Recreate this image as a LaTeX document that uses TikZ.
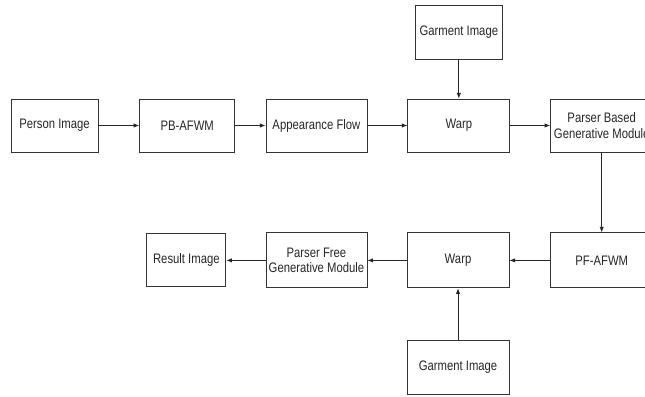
\documentclass[tikz,border=0pt]{standalone}
\usepackage{fontspec}
\setmainfont{Liberation Sans}[FakeStretch=0.82]
\usepackage{tikz}
\usetikzlibrary{arrows.meta,positioning}

\begin{document}
\begin{tikzpicture}[
  x=0.025cm, y=-0.025cm,
  blk/.style={draw=black!80, line width=0.6pt, inner sep=1pt, minimum height=1.325cm,
    align=center, text=black!85, font=\fontsize{9.8}{11}\selectfont},
  arr/.style={-{Latex[length=1.4mm,width=1.1mm]}, line width=0.6pt, draw=black!85}
]
\clip (0,0) rectangle (645,396);

% top row: parser based branch
\node[blk, minimum width=2.175cm] (person) at (54.5,125.5) {Person Image};
\node[blk, minimum width=2.375cm, right=1.02cm of person] (pbafwm) {PB-AFWM};
\node[blk, minimum width=2.525cm, right=0.76cm of pbafwm] (flow) {Appearance Flow};
\node[blk, minimum width=2.55cm, right=1cm of flow] (warpa) {Warp};
\node[blk, minimum width=2.175cm, minimum height=1.35cm, above=0.98cm of warpa] (garmenta) {Garment Image};
\node[blk, minimum width=2.55cm, right=1cm of warpa] (pbgen) {Parser Based\\Generative Module};

% bottom row: parser free branch
\node[blk, minimum width=2.55cm, minimum height=1.375cm, below=2cm of pbgen] (pfafwm) {PF-AFWM};
\node[blk, minimum width=2.55cm, minimum height=1.375cm, left=1.02cm of pfafwm] (warpb) {Warp};
\node[blk, minimum width=2.525cm, minimum height=1.375cm, left=0.98cm of warpb] (pfgen) {Parser Free\\Generative Module};
\node[blk, minimum width=1.975cm, left=0.98cm of pfgen] (result) {Result Image};
\node[blk, minimum width=2.55cm, minimum height=1.35cm, below=1.28cm of warpb] (garmentb) {Garment Image};

\draw[arr] (person) -- (pbafwm);
\draw[arr] (pbafwm) -- (flow);
\draw[arr] (flow) -- (warpa);
\draw[arr] (garmenta) -- (warpa);
\draw[arr] (warpa) -- (pbgen);
\draw[arr] (pbgen) -- (pfafwm);
\draw[arr] (pfafwm) -- (warpb);
\draw[arr] (garmentb) -- (warpb);
\draw[arr] (warpb) -- (pfgen);
\draw[arr] (pfgen) -- (result);
\end{tikzpicture}
\end{document}
